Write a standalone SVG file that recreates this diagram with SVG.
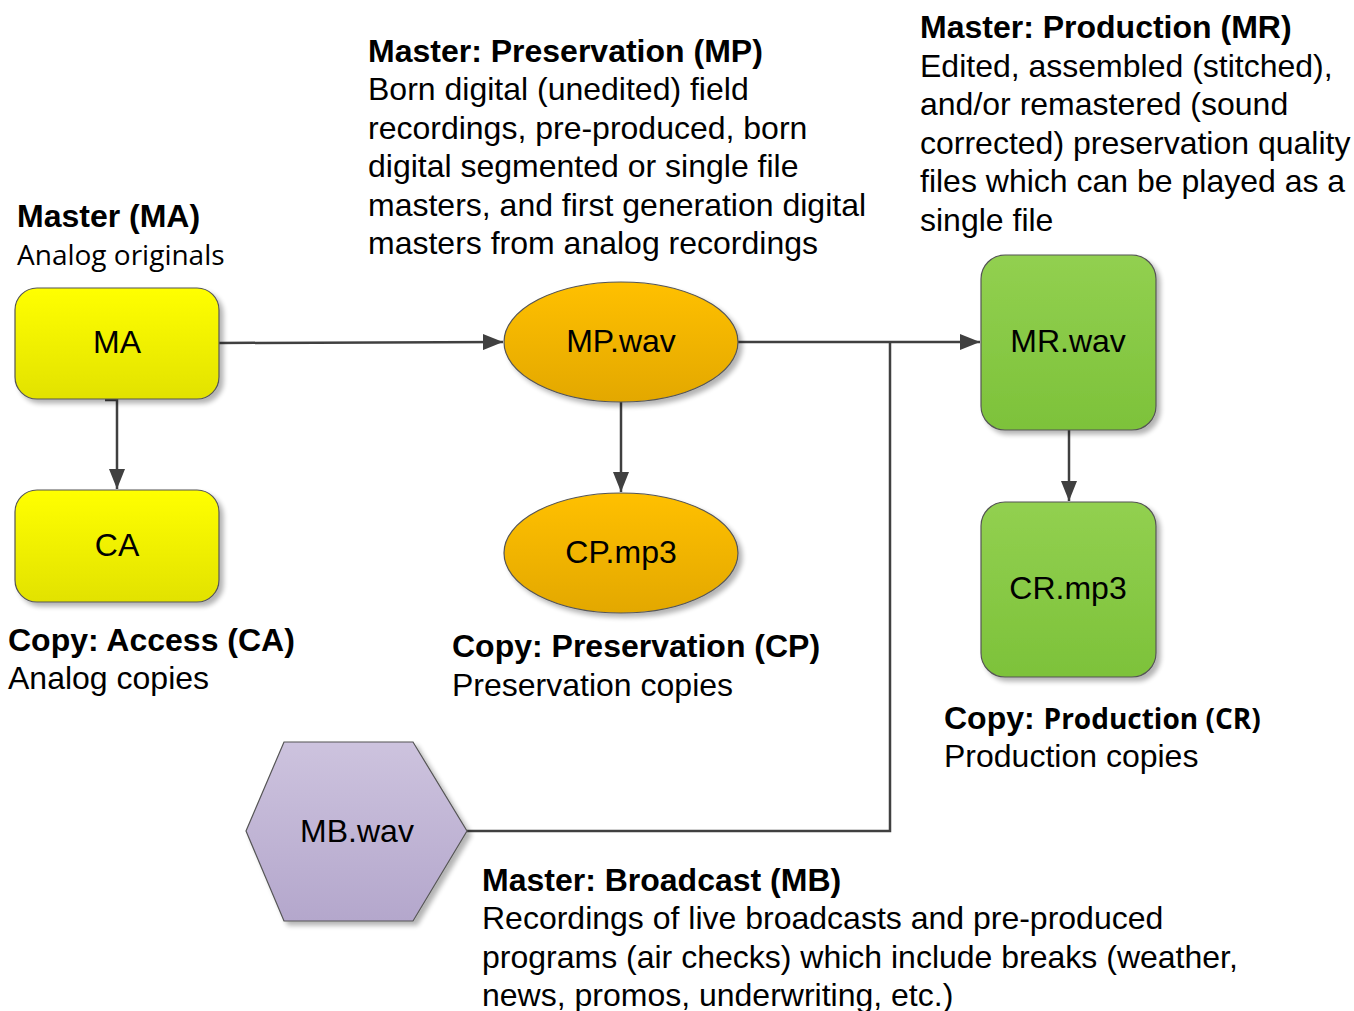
<svg xmlns="http://www.w3.org/2000/svg" width="1354" height="1011" viewBox="0 0 1354 1011">
<defs>
<linearGradient id="gY" x1="0" y1="0" x2="0" y2="1"><stop offset="0" stop-color="#FFFF00"/><stop offset="1" stop-color="#E2E200"/></linearGradient>
<linearGradient id="gO" x1="0" y1="0" x2="0" y2="1"><stop offset="0" stop-color="#FFC000"/><stop offset="1" stop-color="#E3A800"/></linearGradient>
<linearGradient id="gG" x1="0" y1="0" x2="0" y2="1"><stop offset="0" stop-color="#92D050"/><stop offset="1" stop-color="#7DC23A"/></linearGradient>
<linearGradient id="gP" x1="0" y1="0" x2="0" y2="1"><stop offset="0" stop-color="#CDC3DE"/><stop offset="1" stop-color="#B4A7CC"/></linearGradient>
<filter id="sh" x="-10%" y="-10%" width="130%" height="130%"><feGaussianBlur in="SourceAlpha" stdDeviation="2.5"/><feOffset dx="4" dy="4" result="b"/><feComponentTransfer><feFuncA type="linear" slope="0.3"/></feComponentTransfer><feMerge><feMergeNode/><feMergeNode in="SourceGraphic"/></feMerge></filter>
<marker id="arr" markerWidth="20" markerHeight="16" refX="20" refY="8" orient="auto" markerUnits="userSpaceOnUse"><path d="M0,0 L20,8 L0,16 Z" fill="#404040"/></marker>
</defs>
<style>
.shape{stroke:#555;stroke-width:1.2;filter:url(#sh)}
.lbl{font-family:"Liberation Sans",Arial,sans-serif;font-size:32px;fill:#000;text-anchor:middle}
.t{font-family:"Liberation Sans",Arial,sans-serif;font-size:32px;fill:#000}
.b{font-weight:bold}
.cal{font-family:"Open Sans","Noto Sans",sans-serif;font-size:28px}
.con{fill:none;stroke:#404040;stroke-width:2.5}
</style>
<rect width="1354" height="1011" fill="#fff"/>
<g id="connectors">
<path class="con" d="M219,343 L503,342" marker-end="url(#arr)"/>
<path class="con" d="M105,400 H117 V489" marker-end="url(#arr)"/>
<path class="con" d="M621,402 V492" marker-end="url(#arr)"/>
<path class="con" d="M738,342 H980" marker-end="url(#arr)"/>
<path class="con" d="M467,831 H890 V342"/>
<path class="con" d="M1069,430 V501" marker-end="url(#arr)"/>
</g>
<g id="MA">
<rect class="shape" x="15" y="288" width="204" height="111" rx="22" fill="url(#gY)"/>
<text class="lbl" x="117" y="353">MA</text>
</g>
<g id="CA">
<rect class="shape" x="15" y="490" width="204" height="112" rx="22" fill="url(#gY)"/>
<text class="lbl" x="117" y="556">CA</text>
</g>
<g id="MP">
<ellipse class="shape" cx="621" cy="342" rx="117" ry="60" fill="url(#gO)"/>
<text class="lbl" x="621" y="352">MP.wav</text>
</g>
<g id="CP">
<ellipse class="shape" cx="621" cy="553" rx="117" ry="60" fill="url(#gO)"/>
<text class="lbl" x="621" y="563">CP.mp3</text>
</g>
<g id="MR">
<rect class="shape" x="981" y="255" width="175" height="175" rx="24" fill="url(#gG)"/>
<text class="lbl" x="1068" y="352">MR.wav</text>
</g>
<g id="CR">
<rect class="shape" x="981" y="502" width="175" height="175" rx="24" fill="url(#gG)"/>
<text class="lbl" x="1068" y="599">CR.mp3</text>
</g>
<g id="MB">
<polygon class="shape" points="246,831 284,742 413,742 467,831 413,921 284,921" fill="url(#gP)"/>
<text class="lbl" x="357" y="842">MB.wav</text>
</g>
<g id="label-MA">
<text class="t b" x="17" y="227">Master (MA)</text>
<text class="t cal" x="17" y="265">Analog originals</text>
</g>
<g id="label-MP">
<text class="t b" x="368" y="62">Master: Preservation (MP)</text>
<text class="t" x="368" y="100">Born digital (unedited) field</text>
<text class="t" x="368" y="139">recordings, pre-produced, born</text>
<text class="t" x="368" y="177">digital segmented or single file</text>
<text class="t" x="368" y="216">masters, and first generation digital</text>
<text class="t" x="368" y="254">masters from analog recordings</text>
</g>
<g id="label-MR">
<text class="t b" x="920" y="38">Master: Production (MR)</text>
<text class="t" x="920" y="77">Edited, assembled (stitched),</text>
<text class="t" x="920" y="115">and/or remastered (sound</text>
<text class="t" x="920" y="154">corrected) preservation quality</text>
<text class="t" x="920" y="192">files which can be played as a</text>
<text class="t" x="920" y="231">single file</text>
</g>
<g id="label-CA">
<text class="t b" x="8" y="651">Copy: Access (CA)</text>
<text class="t" x="8" y="689">Analog copies</text>
</g>
<g id="label-CP">
<text class="t b" x="452" y="657">Copy: Preservation (CP)</text>
<text class="t" x="452" y="696">Preservation copies</text>
</g>
<g id="label-CR">
<text class="t b" x="944" y="729">Copy: <tspan class="cal">Production (CR)</tspan></text>
<text class="t" x="944" y="767">Production copies</text>
</g>
<g id="label-MB">
<text class="t b" x="482" y="891">Master: Broadcast (MB)</text>
<text class="t" x="482" y="929">Recordings of live broadcasts and pre-produced</text>
<text class="t" x="482" y="968">programs (air checks) which include breaks (weather,</text>
<text class="t" x="482" y="1006">news, promos, underwriting, etc.)</text>
</g>
</svg>
